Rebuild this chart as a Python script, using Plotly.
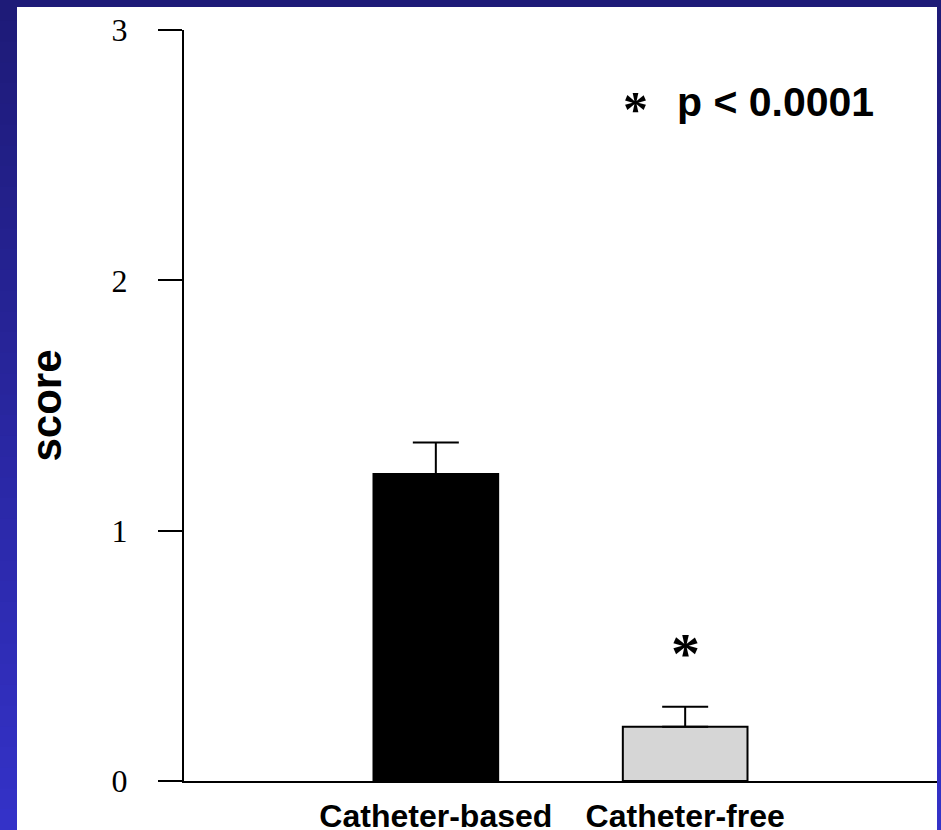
import plotly.graph_objects as go

categories = ["Catheter-based", "Catheter-free"]
means = [1.226, 0.217]
errors = [0.126, 0.080]
bar_colors = ["#000000", "#d6d6d6"]
y_ticks = [0, 1, 2, 3]
sig_label = "p < 0.0001"

fig = go.Figure()
fig.add_trace(go.Bar(
    x=categories, y=means,
    width=0.5,
    marker=dict(color=bar_colors, line=dict(color="black", width=2)),
    error_y=dict(type="data", array=errors, arrayminus=[0, 0], symmetric=False,
                 color="black", thickness=2, width=23),
    showlegend=False,
))

W, H = 941, 830
l, r, t, b = 184, 4, 30, 49
pw = W - l - r
ph = H - t - b

def px(x):
    return (x - l) / pw

def py(y):
    return 1 - (y - t) / ph

shapes = []
# gradient background bands
n = 40
c0 = (0x1e, 0x1b, 0x78)
c1 = (0x34, 0x32, 0xc8)
for i in range(n):
    f = i / (n - 1)
    col = "rgb(%d,%d,%d)" % tuple(int(c0[k] + (c1[k] - c0[k]) * f) for k in range(3))
    y0 = H * i / n
    y1 = H * (i + 1) / n + 1
    shapes.append(dict(type="rect", xref="paper", yref="paper", layer="below",
                       x0=px(0), x1=px(W), y0=py(y1), y1=py(y0),
                       fillcolor=col, line=dict(width=0)))
# white panel
shapes.append(dict(type="rect", xref="paper", yref="paper", layer="below",
                   x0=px(17), x1=px(937), y0=py(835), y1=py(7),
                   fillcolor="white", line=dict(width=0)))

fig.update_layout(
    width=W, height=H,
    margin=dict(l=l, r=r, t=t, b=b, pad=0, autoexpand=False),
    paper_bgcolor="#1e1b78",
    plot_bgcolor="white",
    shapes=shapes,
    bargap=0.5,
    xaxis=dict(
        range=[-1.01, 2.01],
        automargin=False,
        showline=True, linecolor="black", linewidth=2,
        ticks="", showgrid=False, zeroline=False,
        tickfont=dict(family="Liberation Sans", size=32, color="black", weight="bold"),
        ticklabelstandoff=6,
    ),
    yaxis=dict(
        range=[0, 3],
        automargin=False,
        tickvals=y_ticks,
        showline=True, linecolor="black", linewidth=2,
        ticks="outside", ticklen=24, tickwidth=2, tickcolor="black",
        showgrid=False, zeroline=False,
        tickfont=dict(family="Liberation Serif", size=32, color="black"),
        ticklabelstandoff=24,
        title=dict(text="score", font=dict(family="Liberation Sans", size=42, color="black", weight="bold"),
                   standoff=37),
    ),
    annotations=[
        dict(x=1, y=0.535, xref="x", yref="y", text="*", showarrow=False,
             font=dict(family="Liberation Serif", size=58, color="black", weight="bold"),
             yanchor="middle", xanchor="center", yshift=-6),
        dict(x=px(635), y=py(101), xref="paper", yref="paper", text="*", showarrow=False,
             font=dict(family="Liberation Serif", size=50, color="black", weight="bold"),
             yanchor="middle", xanchor="center", yshift=-8),
        dict(x=px(675), y=py(102), xref="paper", yref="paper", text=sig_label, showarrow=False,
             font=dict(family="Liberation Sans", size=41, color="black", weight="bold"),
             yanchor="middle", xanchor="left"),
    ],
)

fig.write_html("out.html", config={"displayModeBar": False},
               post_script="document.body.style.margin='0px';")
